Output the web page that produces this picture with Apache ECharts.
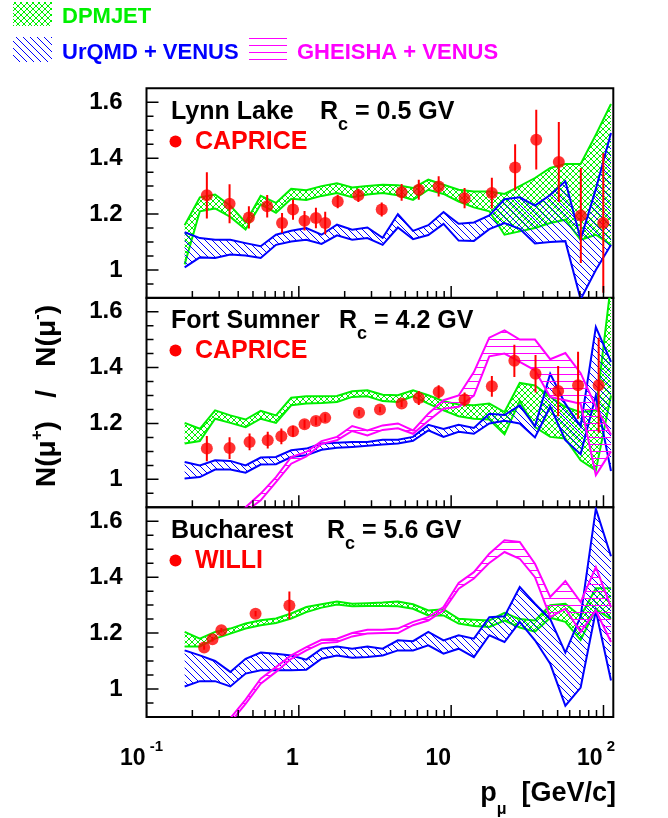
<!DOCTYPE html>
<html>
<head>
<meta charset="utf-8">
<script src="https://cdn.jsdelivr.net/npm/echarts@6/dist/echarts.min.js"></script>
<style>
  html, body { margin: 0; padding: 0; background: #fff; }
  #chart { width: 668px; height: 818px; }
</style>
</head>
<body>
<div id="chart"></div>
<script>
// 模型计算点的动量 p (GeV/c)
const pMod = [0.178, 0.224, 0.282, 0.355, 0.447, 0.562, 0.708, 0.891, 1.12, 1.41, 1.78, 2.24, 2.82, 3.55, 4.47,
  5.62, 7.08, 8.91, 11.2, 14.1, 17.8, 22.4, 28.2, 35.5, 44.7, 56.2, 70.8, 89.1, 112]

// Lynn Lake
const dpmHi1 = [1.16, 1.26, 1.27, 1.23, 1.17, 1.265, 1.24, 1.29, 1.285, 1.30, 1.31, 1.295, 1.30, 1.305, 1.303,
  1.293, 1.323, 1.305, 1.287, 1.281, 1.281, 1.272, 1.30, 1.329, 1.365, 1.379, 1.379, 1.484, 1.594]
const dpmLo1 = [1.02, 1.21, 1.22, 1.19, 1.145, 1.235, 1.205, 1.255, 1.25, 1.265, 1.275, 1.26, 1.27, 1.275, 1.267,
  1.251, 1.287, 1.272, 1.245, 1.224, 1.21, 1.126, 1.138, 1.15, 1.168, 1.18, 1.108, 1.126, 1.09]
const urqHi1 = [1.135, 1.114, 1.108, 1.108, 1.096, 1.085, 1.126, 1.14, 1.15, 1.126, 1.162, 1.144, 1.152, 1.115, 1.20,
  1.14, 1.16, 1.207, 1.165, 1.17, 1.195, 1.253, 1.26, 1.23, 1.268, 1.317, 1.11, 1.29, 1.49]
const urqLo1 = [1.009, 1.045, 1.043, 1.055, 1.052, 1.043, 1.09, 1.102, 1.108, 1.093, 1.124, 1.108, 1.114, 1.09, 1.152,
  1.11, 1.125, 1.165, 1.105, 1.104, 1.146, 1.168, 1.147, 1.095, 1.10, 1.103, 0.895, 1.00, 1.09]
const capP1 = [0.249, 0.351, 0.47, 0.62, 0.776, 0.916, 1.09, 1.295, 1.49, 1.80, 2.46, 3.50, 4.73, 6.13, 8.28,
  12.25, 18.5, 26.3, 36.2, 50.9, 71.0, 99.7]
const capR1 = [1.267, 1.237, 1.188, 1.228, 1.168, 1.216, 1.176, 1.186, 1.168, 1.245, 1.267, 1.216, 1.278, 1.287,
  1.299, 1.257, 1.275, 1.367, 1.466, 1.386, 1.195, 1.168]
const capE1 = [0.083, 0.07, 0.04, 0.04, 0.036, 0.036, 0.035, 0.037, 0.04, 0.024, 0.024, 0.025, 0.03, 0.036, 0.036,
  0.036, 0.055, 0.083, 0.107, 0.143, 0.17, 0.25]

// Fort Sumner
const dpmHi2 = [1.202, 1.181, 1.247, 1.229, 1.214, 1.245, 1.229, 1.292, 1.297, 1.297, 1.298, 1.315, 1.319, 1.303,
  1.301, 1.319, 1.301, 1.28, 1.268, 1.265, 1.271, 1.241, 1.345, 1.336, 1.295, 1.259, 1.24, 1.247, 1.70]
const dpmLo2 = [1.128, 1.137, 1.217, 1.202, 1.187, 1.217, 1.202, 1.265, 1.271, 1.273, 1.277, 1.295, 1.297, 1.28,
  1.277, 1.297, 1.271, 1.247, 1.226, 1.217, 1.214, 1.161, 1.28, 1.187, 1.152, 1.146, 1.068, 1.032, 1.30]
const urqHi2 = [1.062, 1.05, 1.068, 1.066, 1.05, 1.078, 1.08, 1.104, 1.11, 1.128, 1.131, 1.134, 1.134, 1.142, 1.142,
  1.152, 1.195, 1.18, 1.195, 1.184, 1.235, 1.23, 1.265, 1.19, 1.378, 1.27, 1.19, 1.545, 1.42]
const urqLo2 = [1.003, 1.008, 1.035, 1.035, 1.024, 1.053, 1.054, 1.08, 1.086, 1.106, 1.113, 1.116, 1.12, 1.125, 1.128,
  1.138, 1.175, 1.152, 1.17, 1.163, 1.20, 1.21, 1.20, 1.15, 1.26, 1.14, 1.09, 1.30, 1.03]
const gheHi2 = [null, null, null, 0.86, 0.90, 0.949, 1.008, 1.08, 1.098, 1.137, 1.152, 1.191, 1.175, 1.193, 1.20,
  1.175, 1.235, 1.283, 1.30, 1.384, 1.507, 1.533, 1.50, 1.50, 1.43, 1.452, 1.38, 1.26, 1.16]
const gheLo2 = [null, null, null, 0.85, 0.885, 0.925, 0.99, 1.056, 1.082, 1.127, 1.14, 1.173, 1.157, 1.177, 1.183,
  1.163, 1.21, 1.253, 1.26, 1.30, 1.44, 1.45, 1.42, 1.39, 1.295, 1.283, 1.27, 1.015, 1.10]
const capP2 = [0.249, 0.351, 0.475, 0.625, 0.768, 0.916, 1.09, 1.295, 1.49, 2.485, 3.41, 4.73, 6.13, 8.28, 12.25,
  18.5, 26.0, 35.8, 50.4, 68.1, 93.0]
const capR2 = [1.110, 1.112, 1.134, 1.14, 1.154, 1.172, 1.197, 1.209, 1.22, 1.238, 1.25, 1.271, 1.291, 1.313, 1.286,
  1.333, 1.424, 1.378, 1.316, 1.337, 1.337]
const capE2 = [0.045, 0.039, 0.03, 0.03, 0.028, 0.02, 0.015, 0.015, 0.015, 0.01, 0.01, 0.012, 0.025, 0.024, 0.025,
  0.037, 0.058, 0.067, 0.09, 0.12, 0.17]

// Bucharest
const dpmHi3 = [1.204, 1.18, 1.204, 1.216, 1.234, 1.246, 1.252, 1.27, 1.293, 1.303, 1.313, 1.305, 1.307, 1.309, 1.313,
  1.303, 1.281, 1.285, 1.251, 1.248, 1.245, 1.272, 1.25, 1.245, 1.30, 1.305, 1.26, 1.36, 1.36]
const dpmLo3 = [1.152, 1.152, 1.18, 1.198, 1.216, 1.228, 1.236, 1.252, 1.275, 1.291, 1.302, 1.296, 1.297, 1.297, 1.296,
  1.287, 1.263, 1.263, 1.234, 1.225, 1.222, 1.245, 1.22, 1.205, 1.255, 1.24, 1.175, 1.285, 1.25]
const urqHi3 = [1.138, 1.12, 1.10, 1.061, 1.108, 1.13, 1.126, 1.12, 1.105, 1.144, 1.152, 1.144, 1.152, 1.144, 1.174,
  1.171, 1.204, 1.174, 1.192, 1.18, 1.257, 1.26, 1.365, 1.305, 1.25, 1.13, 1.26, 1.645, 1.475]
const urqLo3 = [1.009, 1.028, 1.028, 1.009, 1.055, 1.067, 1.067, 1.067, 1.069, 1.108, 1.12, 1.112, 1.114, 1.12, 1.138,
  1.138, 1.156, 1.126, 1.144, 1.114, 1.192, 1.168, 1.24, 1.174, 1.09, 0.94, 1.005, 1.28, 1.03]
const gheHi3 = [null, null, null, 0.895, 0.962, 1.037, 1.078, 1.12, 1.15, 1.176, 1.18, 1.20, 1.212, 1.212, 1.216,
  1.24, 1.257, 1.293, 1.379, 1.418, 1.484, 1.532, 1.526, 1.448, 1.329, 1.386, 1.311, 1.436, 1.293]
const gheLo3 = [null, null, null, 0.88, 0.947, 1.019, 1.061, 1.108, 1.138, 1.164, 1.168, 1.188, 1.198, 1.20, 1.20,
  1.228, 1.245, 1.281, 1.359, 1.395, 1.451, 1.49, 1.466, 1.40, 1.257, 1.287, 1.204, 1.281, 1.168]
const wilP3 = [0.239, 0.271, 0.31, 0.52, 0.867]
const wilR3 = [1.148, 1.178, 1.21, 1.269, 1.299]
const wilE3 = [0.008, 0.008, 0.008, 0.01, 0.05]

// 刻度
const xMajor = [0.1, 1, 10, 100]
const xMinor = [0.2, 0.3, 0.4, 0.5, 0.6, 0.7, 0.8, 0.9, 2, 3, 4, 5, 6, 7, 8, 9, 20, 30, 40, 50, 60, 70, 80, 90]
const yMajor = [1, 1.2, 1.4, 1.6]
const yMinor = [0.95, 1.05, 1.1, 1.15, 1.25, 1.3, 1.35, 1.45, 1.5, 1.55]
const xLabels = [['10', ' -1'], ['1', ''], ['10', ''], ['10', ' 2']]

const GREEN = '#00f000'
const BLUE = '#0000ff'
const MAGENTA = '#ff00ff'
const RED = '#ff0000'
const FONT = 'Liberation Sans, Arial, Helvetica, sans-serif'

// 阴影填充图案
function hatch(kind, color, size) {
  const c = document.createElement('canvas')
  c.width = c.height = size
  const ctx = c.getContext('2d')
  ctx.strokeStyle = color
  ctx.lineWidth = 1
  ctx.beginPath()
  if (kind === 'back' || kind === 'cross') {
    ctx.moveTo(0, 0); ctx.lineTo(size, size)
    ctx.moveTo(-1, size - 1); ctx.lineTo(1, size + 1)
    ctx.moveTo(size - 1, -1); ctx.lineTo(size + 1, 1)
  }
  if (kind === 'cross') {
    ctx.moveTo(0, size); ctx.lineTo(size, 0)
    ctx.moveTo(-1, 1); ctx.lineTo(1, -1)
    ctx.moveTo(size - 1, size + 1); ctx.lineTo(size + 1, size - 1)
  }
  if (kind === 'horiz') {
    ctx.moveTo(0, size / 2); ctx.lineTo(size, size / 2)
  }
  ctx.stroke()
  return { image: c, repeat: 'repeat' }
}
const fillDpm = hatch('cross', GREEN, 6)
const fillUrq = hatch('back', BLUE, 7)
const fillGhe = hatch('horiz', MAGENTA, 7)

// 三个面板
const gridTop = [88.3, 297.7, 507.3]
const grids = []
const xAxes = []
const yAxes = []
gridTop.forEach((top, g) => {
  grids.push({ left: 146.5, top: top, width: 466.8, height: 209.6, show: true, borderColor: '#000', borderWidth: 2 })
  xAxes.push({
    type: 'log', logBase: 10, min: 0.1, max: 116, gridIndex: g, position: 'bottom',
    axisLine: { show: false }, axisTick: { show: false }, splitLine: { show: false },
    axisLabel: {
      show: g === 2,
      customValues: xMajor,
      align: 'right',
      margin: 22,
      formatter: (v) => {
        const l = xLabels[xMajor.findIndex((m) => Math.abs(m - v) < 1e-6 * m)] || [String(v), '']
        return '{b|' + l[0] + '}' + (l[1] ? '{s|' + l[1] + '}' : '')
      },
      rich: {
        b: { fontFamily: FONT, fontWeight: 'bold', fontSize: 23, lineHeight: 40, color: '#000', align: 'left' },
        s: { fontFamily: FONT, fontWeight: 'bold', fontSize: 15, lineHeight: 15, color: '#000', width: 1, align: 'left', verticalAlign: 'top' },
      },
    },
  })
  yAxes.push({
    type: 'value', min: 0.9, max: 1.65, gridIndex: g, position: 'left',
    axisLine: { show: false }, axisTick: { show: false }, splitLine: { show: false },
    axisLabel: { customValues: yMajor, margin: 24, color: '#000', fontFamily: FONT, fontWeight: 'bold', fontSize: 24 },
  })
})

// 刻度线：每条一项 [x, y, 方向(0=x轴,1=y轴), 长度]
const tickRows = [].concat(
  xMajor.map((v) => [v, 1.2, 0, 12]),
  xMinor.map((v) => [v, 1.2, 0, 7]),
  yMajor.map((v) => [1, v, 1, 12]),
  yMinor.map((v) => [1, v, 1, 7])
)
function frameTicks(g) {
  return {
    type: 'custom',
    xAxisIndex: g,
    yAxisIndex: g,
    clip: true,
    silent: true,
    data: tickRows,
    renderItem: (params, api) => {
      const cs = params.coordSys
      const c = api.coord([api.value(0), api.value(1)])
      const len = api.value(3)
      const bottom = cs.y + cs.height
      const shape = api.value(2) === 0
        ? { x1: c[0], y1: bottom, x2: c[0], y2: bottom - len }
        : { x1: cs.x, y1: c[1], x2: cs.x + len, y2: c[1] }
      return { type: 'line', shape: shape, style: { stroke: '#000', lineWidth: 1.5 } }
    },
  }
}

// 模型带
function band(g, lo, hi, color, fill) {
  return {
    type: 'custom',
    xAxisIndex: g,
    yAxisIndex: g,
    clip: true,
    silent: true,
    data: [[1, 1.2]],
    renderItem: (params, api) => {
      const top = []
      const bot = []
      pMod.forEach((p, i) => {
        if (hi[i] == null) return
        top.push(api.coord([p, hi[i]]))
        bot.push(api.coord([p, lo[i]]))
      })
      return {
        type: 'group',
        children: [
          { type: 'polygon', shape: { points: top.concat(bot.slice().reverse()) }, style: { fill: fill, stroke: null } },
          { type: 'polyline', shape: { points: top }, style: { stroke: color, lineWidth: 2, fill: null } },
          { type: 'polyline', shape: { points: bot }, style: { stroke: color, lineWidth: 2, fill: null } },
        ],
      }
    },
  }
}

// 实验数据点 + 误差棒
function points(g, p, r, e) {
  return [
    {
      type: 'custom',
      xAxisIndex: g,
      yAxisIndex: g,
      clip: true,
      silent: true,
      data: p.map((x, i) => [x, r[i], e[i]]),
      renderItem: (params, api) => {
        const a = api.coord([api.value(0), api.value(1) - api.value(2)])
        const b = api.coord([api.value(0), api.value(1) + api.value(2)])
        return { type: 'line', shape: { x1: a[0], y1: a[1], x2: b[0], y2: b[1] }, style: { stroke: RED, lineWidth: 2 } }
      },
    },
    {
      type: 'scatter',
      xAxisIndex: g,
      yAxisIndex: g,
      symbol: 'circle',
      symbolSize: 12,
      itemStyle: { color: RED },
      silent: true,
      data: p.map((x, i) => [x, r[i]]),
    },
  ]
}

const series = [
  band(0, dpmLo1, dpmHi1, GREEN, fillDpm),
  band(0, urqLo1, urqHi1, BLUE, fillUrq),
  ...points(0, capP1, capR1, capE1),
  frameTicks(0),
  band(1, dpmLo2, dpmHi2, GREEN, fillDpm),
  band(1, urqLo2, urqHi2, BLUE, fillUrq),
  band(1, gheLo2, gheHi2, MAGENTA, fillGhe),
  ...points(1, capP2, capR2, capE2),
  frameTicks(1),
  band(2, dpmLo3, dpmHi3, GREEN, fillDpm),
  band(2, urqLo3, urqHi3, BLUE, fillUrq),
  band(2, gheLo3, gheHi3, MAGENTA, fillGhe),
  ...points(2, wilP3, wilR3, wilE3),
  frameTicks(2),
]

// 文字
const richSub = {
  b: { fontFamily: FONT, fontWeight: 'bold', fontSize: 25, lineHeight: 25, verticalAlign: 'top' },
  s: { fontFamily: FONT, fontWeight: 'bold', fontSize: 18, lineHeight: 50 },
}
function txt(x, y, text, color, rich) {
  return { type: 'text', x: x, y: y, silent: true,
    style: { text: text, fill: color, rich: rich, align: 'left', verticalAlign: 'top' } }
}
function plain(x, y, text, color, size) {
  return { type: 'text', x: x, y: y, silent: true,
    style: { text: text, fill: color, font: 'bold ' + size + 'px ' + FONT, align: 'left', verticalAlign: 'middle' } }
}
const titles = [
  ['Lynn Lake', 320, '0.5', 121, 'CAPRICE'],
  ['Fort Sumner', 339, '4.2', 330, 'CAPRICE'],
  ['Bucharest', 327, '5.6', 540, 'WILLI'],
]
const graphics = []
titles.forEach((t) => {
  graphics.push(txt(171, t[3] - 21.2, '{b|' + t[0] + '}', '#000', richSub))
  graphics.push(txt(t[1], t[3] - 21.2, '{b|R}{s|c}{b| = ' + t[2] + ' GV}', '#000', richSub))
  graphics.push({ type: 'circle', silent: true, shape: { cx: 175.5, cy: t[3] + 20.5, r: 6 }, style: { fill: RED } })
  graphics.push(plain(195, t[3] + 21, t[4], RED, 25))
})

// 图例
graphics.push({ type: 'rect', silent: true, shape: { x: 13, y: 2, width: 39, height: 24 }, style: { fill: fillDpm } })
graphics.push(plain(62, 16.5, 'DPMJET', GREEN, 22))
graphics.push({ type: 'rect', silent: true, shape: { x: 13, y: 37, width: 39, height: 25 }, style: { fill: fillUrq } })
graphics.push(plain(62, 53, 'UrQMD + VENUS', BLUE, 22))
graphics.push({ type: 'rect', silent: true, shape: { x: 249, y: 36, width: 38, height: 26 }, style: { fill: fillGhe } })
graphics.push(plain(297, 53, 'GHEISHA + VENUS', MAGENTA, 22))

// 坐标轴标题
graphics.push({
  type: 'text', x: 47, y: 396, rotation: Math.PI / 2, silent: true,
  style: {
    text: '{b|N(μ}{p|+}{b|)   /   N(μ}{p|-}{b|)}', fill: '#000', align: 'center', verticalAlign: 'middle',
    rich: {
      b: { fontFamily: FONT, fontWeight: 'bold', fontSize: 28, lineHeight: 36 },
      p: { fontFamily: FONT, fontWeight: 'bold', fontSize: 17, lineHeight: 17, verticalAlign: 'top' },
    },
  },
})
graphics.push({
  type: 'text', x: 616, y: 780, silent: true,
  style: {
    text: '{b|p}{u|μ}{b|  [GeV/c]}', fill: '#000', align: 'right', verticalAlign: 'top',
    rich: {
      b: { fontFamily: FONT, fontWeight: 'bold', fontSize: 27, lineHeight: 27, verticalAlign: 'top' },
      u: { fontFamily: FONT, fontWeight: 'bold', fontSize: 16, lineHeight: 59 },
    },
  },
})

const option = {
  animation: false,
  backgroundColor: '#fff',
  grid: grids,
  xAxis: xAxes,
  yAxis: yAxes,
  series: series,
  graphic: graphics,
}
echarts.init(document.getElementById('chart')).setOption(option)
</script>
</body>
</html>
